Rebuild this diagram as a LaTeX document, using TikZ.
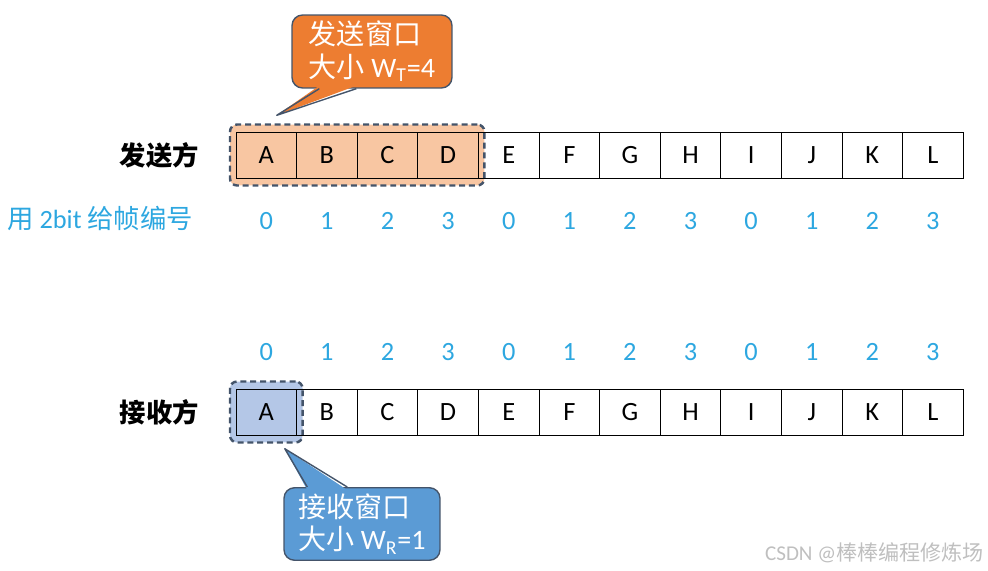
\documentclass[tikz,border=0pt]{standalone}
\usepackage{fontspec}
\setmainfont{Carlito}
\newfontfamily\cjk{Noto Sans CJK SC}
\usetikzlibrary{positioning,fit,backgrounds}
\definecolor{WinOrange}{HTML}{ED7D31}
\definecolor{WinOrangeLight}{HTML}{F8C6A2}
\definecolor{WinBlue}{HTML}{5B9BD5}
\definecolor{WinBlueLight}{HTML}{B4C7E7}
\definecolor{WinEdge}{HTML}{44546A}
\definecolor{SeqBlue}{HTML}{2DA7E0}

\begin{document}
\begin{tikzpicture}[x=0.02cm,y=-0.02cm,font=\fontsize{15}{18}\selectfont]
    \tikzset{cell/.style={draw,line width=0.5pt,minimum width=1.212cm,minimum height=0.92cm,inner sep=0pt,outer sep=0pt},
      seqno/.style={text=SeqBlue},
      sidelabel/.style={font=\fontsize{15}{18}\selectfont\cjk\bfseries},
      window/.style={draw=WinEdge,line width=1.4pt,dash pattern=on 3.4pt off 2.2pt,rounded corners=4pt,inner xsep=0.12cm,inner ysep=0.15cm},
      callout/.style={draw=WinEdge,line width=0.8pt,rounded corners=6pt,text=white,align=left,minimum height=1.46cm,font=\fontsize{16}{18.5}\selectfont},
      pointer/.style={draw=WinEdge,line width=0.8pt,line join=round}}
    \useasboundingbox (0,0) rectangle (988,571);
    % sender and receiver rows
    \foreach \l [count=\i] in {A,B,C,D,E,F,G,H,I,J,K,L} {
      \pgfmathtruncatemacro\n{mod(\i-1,4)}
      \node[cell] (s\i) at ({205.7+60.6*\i},155) {\l};
      \node[seqno] (sn\i) at ([shift={(0,66)}]s\i.center) {\n};
      \node[cell] (r\i) at ({205.7+60.6*\i},412) {\l};
      \node[seqno] (rn\i) at ([shift={(0,-60)}]r\i.center) {\n};
    }
    \node[sidelabel,left=0.62cm of s1] (snd) {发送方};
    \node[sidelabel,left=0.62cm of r1] (rcv) {接收方};
    \node[text=SeqBlue,anchor=west] (seqnote) at (1,218) {{\cjk 用} 2bit {\cjk 给帧编号}};
    % windows
    \begin{scope}[on background layer]
      \node[window,fill=WinOrangeLight,fit=(s1)(s4)] (swin) {};
      \node[window,fill=WinBlueLight,fit=(r1)] (rwin) {};
    \end{scope}
    % callouts
    \node[callout,fill=WinOrange,minimum width=3.2cm] (scall) at (372,51.5) {{\cjk 发送窗口}\\{\cjk 大小} W\textsubscript{T}=4};
    \coordinate (stip) at ([shift={(48,-8)}]swin.north west);
    \fill[WinOrange] ([shift={(28,-3)}]scall.south west) -- (stip) -- ([shift={(65,-3)}]scall.south west) -- cycle;
    \draw[pointer] ([shift={(28,0)}]scall.south west) -- (stip) -- ([shift={(65,0)}]scall.south west);
    \node[callout,fill=WinBlue,minimum width=3.12cm,minimum height=1.44cm] (rcall) at (362,524) {{\cjk 接收窗口}\\{\cjk 大小} W\textsubscript{R}=1};
    \coordinate (rtip) at ([shift={(56,5)}]rwin.south west);
    \fill[WinBlue] ([shift={(24,3)}]rcall.north west) -- (rtip) -- ([shift={(64,3)}]rcall.north west) -- cycle;
    \draw[pointer] ([shift={(24,0)}]rcall.north west) -- (rtip) -- ([shift={(64,0)}]rcall.north west);
    \node[anchor=east,text=black!25,font=\fontsize{12}{14}\selectfont] (mark) at (990,553) {CSDN @{\cjk 棒棒编程修炼场}};
\end{tikzpicture}
\end{document}
